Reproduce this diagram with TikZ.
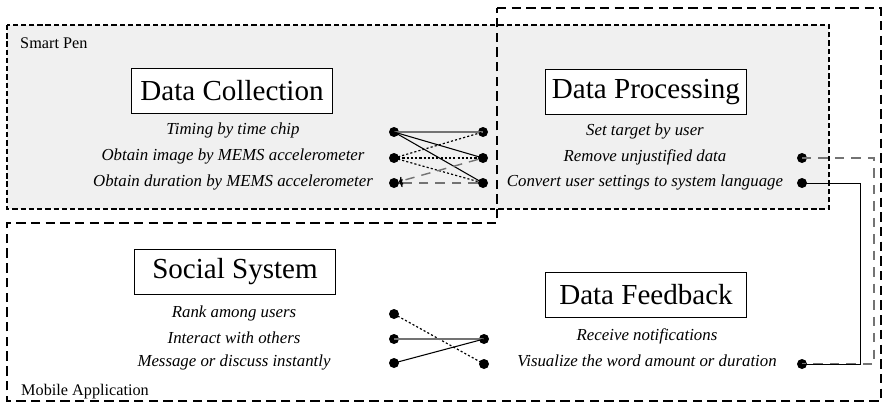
\documentclass[tikz,border=0pt]{standalone}
\usepackage{fontspec}
\setmainfont{Liberation Serif}
\usetikzlibrary{arrows.meta}

\definecolor{pengray}{gray}{0.94}
\definecolor{linkgray}{gray}{0.45}

\begin{document}
\begin{tikzpicture}[x=0.85pt, y=-0.85pt,
    title/.style={draw=black, line width=1.2pt, fill=white, minimum width=171pt, minimum height=38pt, inner sep=0pt, font=\fontsize{24.7}{28}\selectfont},
    item/.style={inner sep=0pt, font=\fontsize{14.3}{16}\selectfont\itshape},
    area/.style={anchor=west, inner sep=0pt, font=\fontsize{13.8}{15}\selectfont},
    dot/.style={circle, fill=black, inner sep=0pt, minimum size=8.5pt},
    penline/.style={line width=1.5pt, dash pattern=on 4.5pt off 2.5pt},
    appline/.style={line width=1.5pt, dash pattern=on 8pt off 4.5pt},
    link/.style={line width=0.9pt},
    dotlink/.style={line width=1pt, dash pattern=on 1.8pt off 1.8pt},
    dashlink/.style={linkgray, line width=1.2pt, dash pattern=on 8pt off 6pt},
    tip/.style={-{To[length=3pt, width=7pt, color=black]}}]
    \useasboundingbox (0,0) rectangle (884,410);

    \fill[pengray] (7,25) rectangle (829,209);
    \draw[appline] (497,8) -- (881,8) -- (881,401) -- (7,401) -- (7,223) -- (497,223) -- cycle;
    \draw[penline] (7,25) rectangle (829,209);

    \node[area] (pen) at (20,43) {Smart Pen};
    \node[area] (app) at (21,392) {Mobile Application};

    \node[title] (collection) at (232,91) {Data Collection};
    \node[item] (c1) at (233,130) {Timing by time chip};
    \node[item] (c2) at (233,156) {Obtain image by MEMS accelerometer};
    \node[item] (c3) at (233,182) {Obtain duration by MEMS accelerometer};

    \node[title] (processing) at (646,92) {Data Processing};
    \node[item] (p1) at (645,131) {Set target by user};
    \node[item] (p2) at (645,157) {Remove unjustified data};
    \node[item] (p3) at (645,182) {Convert user settings to system language};

    \node[title] (social) at (235,272) {Social System};
    \node[item] (s1) at (234,313) {Rank among users};
    \node[item] (s2) at (234,338) {Interact with others};
    \node[item] (s3) at (234,362) {Message or discuss instantly};

    \node[title] (feedback) at (646,295) {Data Feedback};
    \node[item] (f1) at (647,336) {Receive notifications};
    \node[item] (f2) at (647,361) {Visualize the word amount or duration};

    \node[dot] (dc1) at (394,132) {};
    \node[dot] (dc2) at (394,158) {};
    \node[dot] (dc3) at (394,183) {};
    \node[dot] (dp1) at (483,132) {};
    \node[dot] (dp2) at (483,158) {};
    \node[dot] (dp3) at (483,183) {};
    \node[dot] (pr2) at (802,158) {};
    \node[dot] (pr3) at (802,183) {};
    \node[dot] (ds1) at (394,314) {};
    \node[dot] (ds2) at (394,339) {};
    \node[dot] (ds3) at (394,363) {};
    \node[dot] (df1) at (484,339) {};
    \node[dot] (df2) at (484,364) {};
    \node[dot] (fr2) at (802,364) {};

    \coordinate (dashbend) at (874,158);
    \coordinate (solidbend) at (860,183);

    \draw[link, linkgray] (dc1.center) -- (dp1.center);
    \draw[link] (dc1.center) -- (dp2.center);
    \draw[link] (dc1.center) -- (dp3.center);
    \draw[dotlink] (dc2.center) -- (dp1.center);
    \draw[dotlink] (dc2.center) -- (dp2.center);
    \draw[dotlink] (dc2.center) -- (dp3.center);
    \draw[dashlink, tip] (dp3) -- (dc3);
    \draw[dashlink, tip] (dp2) -- (dc3);

    \draw[dashlink] (pr2.center) -- (dashbend) |- (fr2.center);
    \draw[link, line width=0.7pt] (pr3.center) -- (solidbend) |- (fr2.center);

    \draw[dotlink] (ds1.center) -- (df2.center);
    \draw[link, linkgray] (ds2.center) -- (df1.center);
    \draw[link] (ds3.center) -- (df1.center);
\end{tikzpicture}
\end{document}
